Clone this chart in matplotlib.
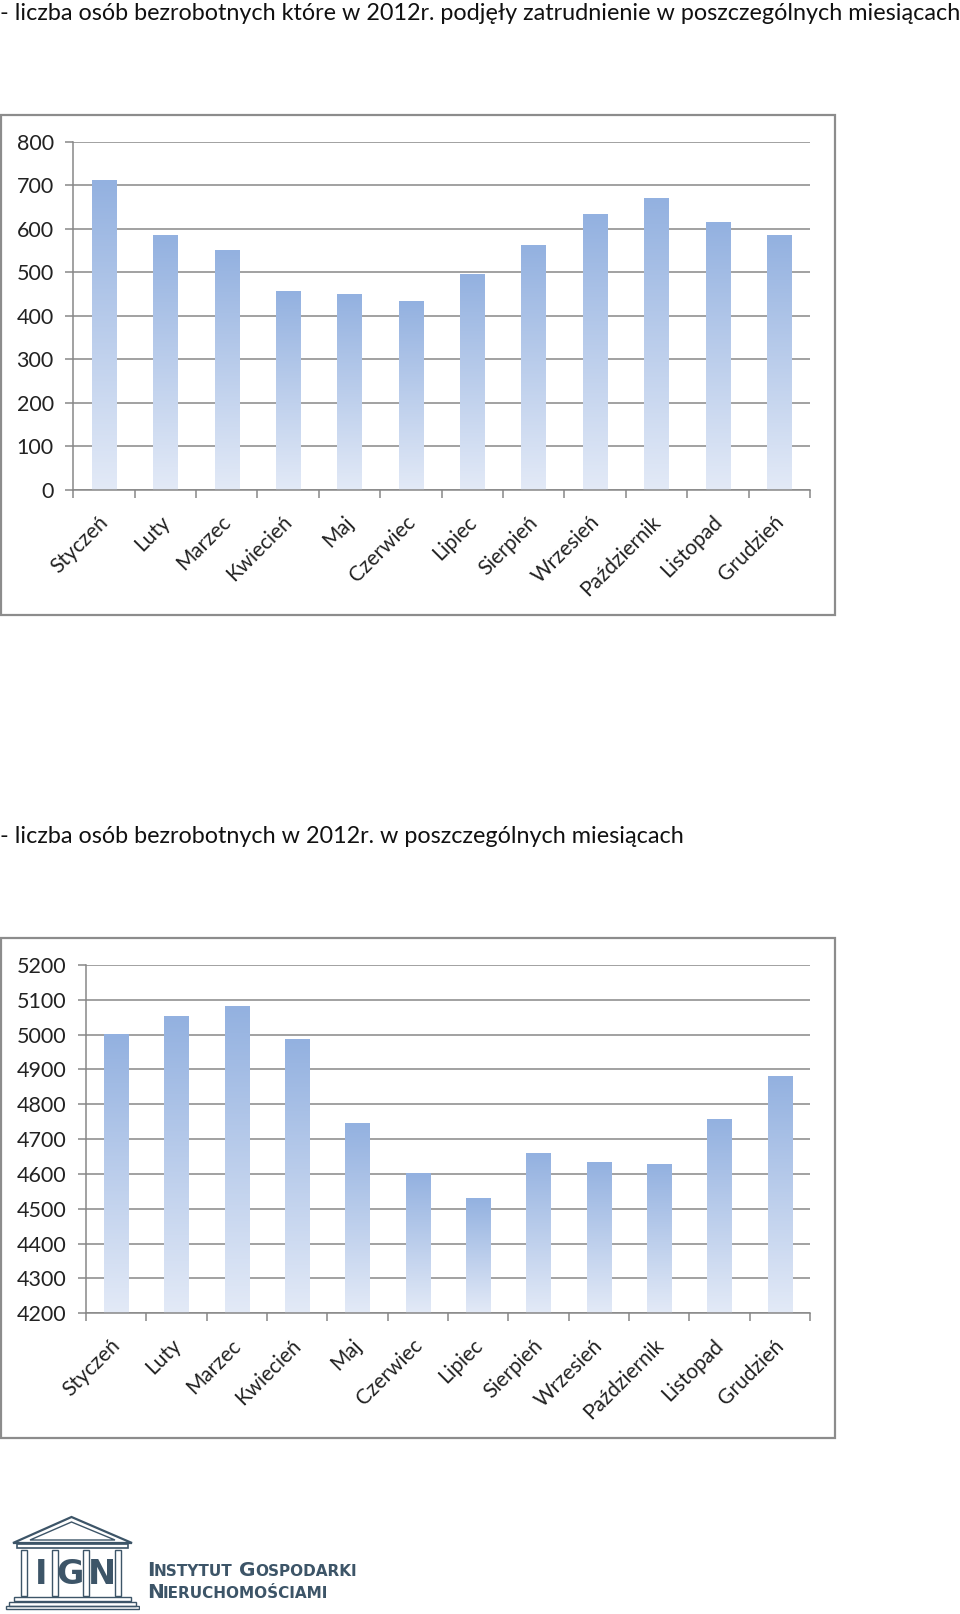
import numpy as np
import matplotlib
matplotlib.use("Agg")
import matplotlib.pyplot as plt
import matplotlib.transforms as mtransforms
from matplotlib.patches import Rectangle, Polygon

plt.rcParams['font.family'] = ['Lato', 'DejaVu Sans']

months = ['Styczeń', 'Luty', 'Marzec', 'Kwiecień', 'Maj', 'Czerwiec', 'Lipiec',
          'Sierpień', 'Wrzesień', 'Październik', 'Listopad', 'Grudzień']
hired = [712, 584, 551, 457, 449, 434, 495, 562, 633, 669, 615, 585]
unemployed = [4999, 5052, 5080, 4985, 4745, 4600, 4529, 4659, 4631, 4625, 4755, 4879]

title_hired = '- liczba osób bezrobotnych które w 2012r. podjęły zatrudnienie w poszczególnych miesiącach'
title_unemployed = '- liczba osób bezrobotnych w 2012r. w poszczególnych miesiącach'

W, H = 960, 1614
fig = plt.figure(figsize=(W / 100, H / 100), dpi=100)

grid_col = '#878787'
top_col = np.array([0x93, 0xB1, 0xE0]) / 255
bot_col = np.array([0xE3, 0xEA, 0xF7]) / 255
grad = np.linspace(top_col, bot_col, 256).reshape(256, 1, 3)


def px_rect(x0, y0, x1, y1):
    # pixel box (top-left origin) -> figure fraction [l, b, w, h]
    return [x0 / W, 1 - y1 / H, (x1 - x0) / W, (y1 - y0) / H]


def frame(x0, y0, x1, y1):
    l, b, w, h = px_rect(x0, y0, x1, y1)
    fig.add_artist(Rectangle((l, b), w, h, transform=fig.transFigure,
                             fill=False, ec='#8c8c8c', lw=1.6))


def bar_chart(rect, values, base, top, step, dx):
    ax = fig.add_axes(px_rect(*rect))
    x = np.arange(len(values))
    vals = np.array(values)
    bars = ax.bar(x, vals - base, bottom=base, width=0.4, color='none')
    for b in bars:
        bx, by, bw, bh = b.get_x(), b.get_y(), b.get_width(), b.get_height()
        ax.imshow(grad, extent=[bx, bx + bw, by, by + bh], aspect='auto',
                  origin='upper', zorder=2, interpolation='bilinear')
    ax.set_xlim(-0.5, len(values) - 0.5)
    ax.set_ylim(base, top)
    ax.set_yticks(np.arange(base, top + 1, step))
    ax.yaxis.grid(True, color=grid_col, lw=1.1)
    ax.set_axisbelow(True)
    for s in ['top', 'right']:
        ax.spines[s].set_visible(False)
    for s in ['left', 'bottom']:
        ax.spines[s].set_color(grid_col)
        ax.spines[s].set_linewidth(1.1)
    ax.tick_params(axis='y', length=5.5, color=grid_col, width=1.1, pad=8.5,
                   labelsize=15.5, labelcolor='#222222')
    ax.set_xticks(x)
    ax.set_xticks(np.arange(-0.5, len(values)), minor=True)
    ax.tick_params(axis='x', which='major', length=0, pad=21, labelsize=15,
                   labelcolor='#222222')
    ax.tick_params(axis='x', which='minor', length=5.5, color=grid_col, width=1.1)
    ax.set_xticklabels(months, rotation=45, ha='right', va='center',
                       rotation_mode='anchor')
    off = mtransforms.ScaledTranslation(dx / 100, 0, fig.dpi_scale_trans)
    for lab in ax.get_xticklabels():
        lab.set_transform(lab.get_transform() + off)
    return ax


fig.text(0, 1 - 13 / H, title_hired, fontsize=16.8, va='center', ha='left', color='#111111')
frame(1, 115, 835, 615)
bar_chart((73.3, 141.7, 810, 490), hired, 0, 800, 100, 1)

fig.text(0, 1 - 836 / H, title_unemployed, fontsize=16.8, va='center', ha='left', color='#111111')
frame(1, 938, 835, 1438)
bar_chart((86, 965, 810, 1313.3), unemployed, 4200, 5200, 100, 1)

# logo
logo_col = '#3d5568'
lax = fig.add_axes(px_rect(5, 1512, 140, 1612))
lax.set_xlim(5, 140)
lax.set_ylim(1612, 1512)
lax.axis('off')
lax.add_patch(Polygon([[13, 1543], [71.5, 1517], [132, 1543]], closed=True,
                      fill=False, ec=logo_col, lw=1.6))
lax.add_patch(Polygon([[30, 1540], [71.5, 1522], [115, 1540]], closed=True,
                      fill=False, ec=logo_col, lw=1.0))
lax.add_patch(Rectangle((17, 1544), 111, 4, fill=False, ec=logo_col, lw=1.2))
for cx in [24, 55, 86, 118]:
    lax.add_patch(Rectangle((cx - 3, 1550), 6, 46, fill=False, ec=logo_col, lw=1.0))
for cx, letter in [(41, 'I'), (70, 'G'), (102, 'N')]:
    lax.text(cx, 1574, letter, fontsize=24, fontweight='bold', color=logo_col,
             ha='center', va='center', family=['DejaVu Sans Condensed', 'DejaVu Sans'])
lax.add_patch(Rectangle((14, 1597), 117, 4, fill=False, ec=logo_col, lw=1.0))
lax.add_patch(Rectangle((9, 1602), 127, 4, fill=False, ec=logo_col, lw=1.0))
lax.add_patch(Rectangle((6, 1606), 133, 3, fill=False, ec=logo_col, lw=1.0))

renderer = fig.canvas.get_renderer()


def small_caps(x, y, words):
    # fake small caps: big first letter, smaller rest, all on one baseline
    for w in words:
        for txt, size in [(w[0], 14.5), (w[1:], 11)]:
            t = fig.text(x / W, 1 - y / H, txt, fontsize=size, fontweight='bold',
                         color=logo_col, va='baseline', ha='left',
                         family=['DejaVu Sans'])
            x += t.get_window_extent(renderer).width - 1
        x += 8


small_caps(147, 1576, ['INSTYTUT', 'GOSPODARKI'])
small_caps(147, 1598, ['NIERUCHOMOŚCIAMI'])

fig.savefig('out.png', dpi=100, facecolor='white')
